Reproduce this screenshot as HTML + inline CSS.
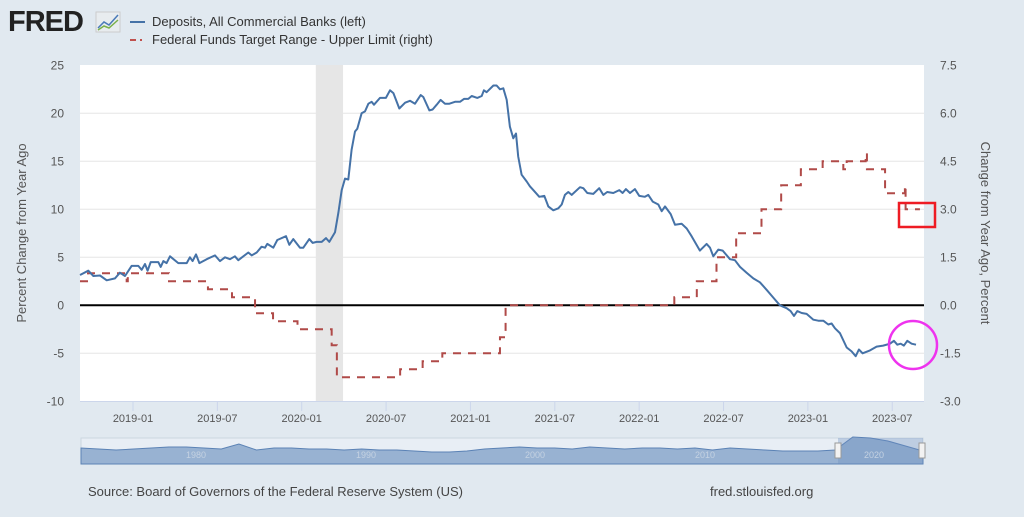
<!DOCTYPE html>
<html><head><meta charset="utf-8"><style>
body{margin:0;background:#e1e9f0;width:1024px;height:517px;overflow:hidden;font-family:"Liberation Sans",sans-serif}
</style></head><body>
<svg id="chart" width="1024" height="517" xmlns="http://www.w3.org/2000/svg" style="position:absolute;left:0;top:0">
<rect width="1024" height="517" fill="#e1e9f0"/>
<g>
<text x="8" y="31" font-size="29" font-weight="bold" fill="#222" font-family="Liberation Sans,sans-serif" letter-spacing="-1">FRED</text>
<rect x="96" y="12" width="24" height="20" fill="#e8ecef" stroke="#ccc"/>
<polyline points="98,28 104,22 109,25 118,15" fill="none" stroke="#4a7ab8" stroke-width="1.5"/>
<polyline points="98,30 104,26 109,28 118,20" fill="none" stroke="#7ab04a" stroke-width="1.5"/>
</g>
<g font-size="13" fill="#333">
<line x1="130" y1="22" x2="145" y2="22" stroke="#4572a7" stroke-width="2"/>
<text x="152" y="26">Deposits, All Commercial Banks (left)</text>
<line x1="130" y1="40" x2="136" y2="40" stroke="#c0504d" stroke-width="2"/>
<line x1="140" y1="40" x2="142" y2="40" stroke="#c0504d" stroke-width="2"/>
<text x="152" y="44">Federal Funds Target Range - Upper Limit (right)</text>
</g>
<rect x="80" y="65" width="844" height="336" fill="#fff"/>
<g id="grid"></g>
<g id="marks"></g>
<g id="axes"></g>
<text transform="translate(26,233) rotate(-90)" text-anchor="middle" font-size="13" fill="#555">Percent Change from Year Ago</text>
<text transform="translate(981,233) rotate(90)" text-anchor="middle" font-size="13" fill="#555">Change from Year Ago, Percent</text>
<g>
<rect x="81" y="438" width="842" height="26" fill="#e8eef5" stroke="#ccd6e0"/>
<path id="navpath" fill="#98b2d2" stroke="#5b82b5" stroke-width="1"/>
<rect x="838" y="438" width="85" height="26" fill="#6d8fc0" opacity="0.35"/>
<g font-size="9" fill="#c5d2e2"><text x="186" y="458">1980</text><text x="356" y="458">1990</text><text x="525" y="458">2000</text><text x="695" y="458">2010</text><text x="864" y="458">2020</text></g>
<rect x="835" y="443" width="6" height="15" fill="#f2f2f2" stroke="#999"/>
<rect x="919" y="443" width="6" height="15" fill="#f2f2f2" stroke="#999"/>
</g>
<text x="88" y="496" font-size="13" fill="#444">Source: Board of Governors of the Federal Reserve System (US)</text>
<text x="710" y="496" font-size="13" fill="#444">fred.stlouisfed.org</text>
<rect x="899" y="203" width="36" height="24" fill="none" stroke="#ee1c24" stroke-width="2.5"/>
<ellipse cx="913" cy="345" rx="24" ry="24" fill="none" stroke="#ee33ee" stroke-width="2.5"/>
</svg>
<script>
// months since 2019-01
const depMonths=[-3.77,-3.18,-2.82,-2.35,-1.87,-1.28,-0.93,-0.57,-0.10,0.38,0.62,0.85,1.04,1.26,1.80,1.97,2.16,2.39,2.63,3.22,3.82,4.05,4.24,4.48,4.72,5.24,5.83,6.19,6.54,6.90,7.25,7.49,8.20,8.44,8.80,9.15,9.39,9.55,9.98,10.26,10.88,11.12,11.40,11.88,12.11,12.54,12.78,13.06,13.42,13.73,13.96,14.37,14.60,14.84,15.08,15.31,15.55,15.79,15.95,16.26,16.50,16.74,16.97,17.14,17.57,17.99,18.28,18.52,18.94,19.35,19.70,20.06,20.46,20.65,21.08,21.31,21.60,21.88,22.19,22.50,22.90,23.26,23.54,23.85,24.09,24.49,24.80,24.96,25.15,25.63,25.86,26.10,26.34,26.58,26.81,27.05,27.24,27.40,27.64,28.00,28.23,28.47,28.90,29.25,29.54,29.89,30.25,30.49,30.72,30.96,31.20,31.79,32.03,32.31,32.74,33.16,33.45,33.73,34.16,34.59,34.82,35.06,35.35,35.70,36.01,36.41,36.65,36.96,37.36,37.60,37.84,38.24,38.55,39.02,39.38,39.73,40.32,40.80,41.04,41.27,41.63,41.94,42.46,42.81,43.17,43.64,44.12,44.59,45.07,45.54,46.01,46.49,46.77,47.01,47.25,47.56,47.91,48.39,48.74,49.10,49.45,49.69,49.93,50.28,50.76,51.11,51.40,51.63,51.89,52.42,52.89,53.36,53.84,54.12,54.36,54.60,54.83,55.07,55.38,55.69];
const depValues=[3.16,3.6,3.05,3.1,2.6,2.8,3.4,3.05,4.1,4.1,3.7,4.3,3.6,4.5,4.5,4.0,4.6,4.4,5.1,4.4,4.4,5.0,4.6,5.3,4.4,4.8,5.2,4.6,5.0,4.8,5.1,4.7,5.5,5.2,5.5,6.1,6.0,6.4,6.0,6.8,7.2,6.3,6.9,6.0,6.0,6.9,6.5,6.6,6.6,7.0,6.6,7.6,9.6,12.0,13.2,13.1,16.2,18.1,18.4,20.0,20.2,21.0,21.2,20.9,21.6,21.6,22.4,22.1,20.5,21.1,21.3,21.0,21.9,21.7,20.3,20.4,20.9,21.4,21.0,21.0,21.2,21.2,21.5,21.5,21.8,21.6,21.8,22.4,22.2,22.9,22.9,22.5,22.6,21.4,18.6,17.4,17.9,15.5,13.6,12.9,12.4,12.0,11.3,11.4,10.3,9.9,10.1,10.5,11.5,11.8,11.5,12.3,12.2,11.7,11.6,12.2,11.5,11.8,11.7,12.0,11.7,12.1,11.7,12.1,11.4,11.3,11.5,10.8,10.5,9.8,10.3,9.5,8.4,8.5,8.0,7.2,5.7,6.4,6.0,5.1,5.8,5.7,4.8,4.7,4.0,3.4,2.8,2.4,1.6,0.8,0.0,-0.3,-0.6,-1.1,-0.6,-0.8,-0.9,-1.5,-1.6,-1.6,-2.0,-1.9,-2.4,-2.9,-4.4,-4.8,-5.3,-4.6,-5.0,-4.7,-4.3,-4.2,-4.0,-3.7,-4.1,-4.0,-4.2,-3.7,-4.0,-4.1];
const fedMonths=[-3.77,-3.2,-0.45,-0.37,2.56,5.33,7.04,8.68,9.96,11.7,14.13,14.5,19.0,20.6,22.0,26.1,26.5,38.5,40.1,41.5,42.9,44.7,46.1,47.5,49.05,50.52,50.76,52.11,52.2,53.49,54.9,54.95];
const fedValues=[0.75,1.0,0.75,1.0,0.75,0.5,0.25,-0.25,-0.5,-0.75,-1.25,-2.25,-2.0,-1.75,-1.5,-1.0,0,0.25,0.75,1.5,2.25,3.0,3.75,4.25,4.5,4.25,4.5,4.75,4.25,3.5,3.75,3.0];
const fedEnd=55.97;
const leftTicks=[25,20,15,10,5,0,-5,-10];
const rightTicks=["7.5","6.0","4.5","3.0","1.5","0.0","-1.5","-3.0"];
const xTickMonths=[0,6,12,18,24,30,36,42,48,54];
const xTickLabels=["2019-01","2019-07","2020-01","2020-07","2021-01","2021-07","2022-01","2022-07","2023-01","2023-07"];
const recession=[13.0,14.94];
const navValues=[5,4,3,4,5,6,6,5,4,9,3,5,5,4,4,3,4,3,3,2,1,1,2,4,5,6,5,5,4,6,5,4,5,5,4,5,3,5,4,3,2,2,2,3,16,15,12,7,2];

const NS="http://www.w3.org/2000/svg";
const X=m=>133+(m)*14.06;
const YL=v=>305.3-v*9.6;
const YR=v=>305.3-v*32;
function mk(tag,attrs,parent){const e=document.createElementNS(NS,tag);for(const k in attrs)e.setAttribute(k,attrs[k]);parent.appendChild(e);return e;}
const grid=document.getElementById('grid'),marks=document.getElementById('marks'),axes=document.getElementById('axes');
const rb=mk('rect',{x:X(recession[0]),y:65,width:X(recession[1])-X(recession[0]),height:336,fill:'#e6e6e6'},grid);


leftTicks.forEach((v,i)=>{
  if(v!==0&&v!==25&&v!==-10){const g=mk('line',{x1:80,x2:924,y1:YL(v),y2:YL(v),stroke:'#e6e6e6','stroke-width':1},grid);
  
  }
  const t=mk('text',{x:64,y:YL(v)+4,'text-anchor':'end','font-size':12,fill:'#555'},axes);t.textContent=v;
  
  
  const r=mk('text',{x:940,y:YL(v)+4,'font-size':12,fill:'#555'},axes);r.textContent=rightTicks[i];
  
  
});
const ax=mk('line',{x1:80,x2:924,y1:401.5,y2:401.5,stroke:'#ccd6eb','stroke-width':1},axes);


xTickMonths.forEach((m,i)=>{
  const tk=mk('line',{x1:X(m),x2:X(m),y1:401,y2:411,stroke:'#ccd6eb'},axes);
  
  
  const t=mk('text',{x:X(m),y:422,'text-anchor':'middle','font-size':11,fill:'#555'},axes);t.textContent=xTickLabels[i];
  
  
});
const zl=mk('line',{x1:80,x2:924,y1:YL(0),y2:YL(0),stroke:'#000','stroke-width':2},marks);


let d='';
fedMonths.forEach((m,i)=>{
  const x=X(m),y=YR(fedValues[i]);
  if(i===0)d+='M'+x+','+y;else d+='H'+x+'V'+y;
});
d+='H'+X(fedEnd);
const fp=mk('path',{d:d,fill:'none',stroke:'#b04a48','stroke-width':2,'stroke-dasharray':'8,7'},marks);


const dp=mk('path',{d:depMonths.map((m,i)=>(i?'L':'M')+X(m).toFixed(1)+','+YL(depValues[i]).toFixed(1)).join(''),fill:'none',stroke:'#4572a7','stroke-width':2,'stroke-linejoin':'round'},marks);


const nx=i=>81+i*842/(navValues.length-1);
document.getElementById('navpath').setAttribute('d','M81,464'+navValues.map((v,i)=>'L'+nx(i).toFixed(1)+','+(453-v)).join('')+'L923,464Z');
</script>
</body></html>
